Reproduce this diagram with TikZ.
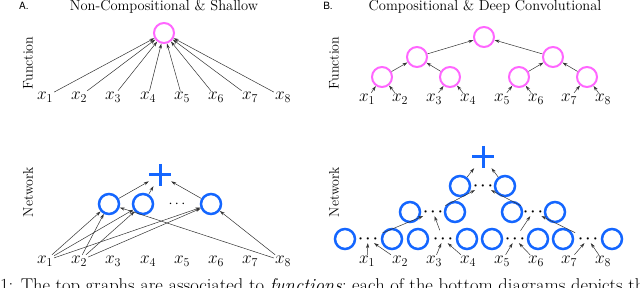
\documentclass[tikz,border=0pt]{standalone}
\usepackage{fontspec}
\newfontfamily\panelfont{TeX Gyre Heros}
\usetikzlibrary{arrows.meta}
\definecolor{FunPink}{HTML}{FF66FF}
\definecolor{NetBlue}{HTML}{1466FF}
\definecolor{EdgeGray}{HTML}{333333}

\begin{document}
\begin{tikzpicture}[x=1pt,y=-1pt,every node/.style={inner sep=1pt},
  heading/.style={font=\fontsize{14.5}{17}\selectfont,anchor=base},
  panel/.style={font=\panelfont\fontsize{10}{12}\selectfont,anchor=base},
  sidelabel/.style={font=\fontsize{14}{16}\selectfont,rotate=90},
  var/.style={font=\fontsize{18}{20}\selectfont},
  fun/.style={circle,draw=FunPink,line width=2pt,minimum size=20pt,inner sep=0pt},
  net/.style={circle,draw=NetBlue,line width=2.5pt,minimum size=20pt,inner sep=0pt},
  gap/.style={font=\fontsize{14.5}{16}\selectfont,inner sep=0.5pt},
  boldgap/.style={gap,font=\fontsize{15.5}{16}\selectfont\boldmath},
  plusnode/.style={minimum size=22pt,inner sep=0pt,path picture={
    \draw[NetBlue,line width=3pt] (path picture bounding box.north) -- (path picture bounding box.south)
      (path picture bounding box.west) -- (path picture bounding box.east);}},
  link/.style={draw=EdgeGray,line width=0.5pt,-{Stealth[length=5pt,width=3.2pt]}},
  lift/.style={link,shorten <=5pt}]
  \useasboundingbox (0,0) rectangle (640,288);

  % headings
  \node[panel] (pa) at (24,10) {A.};
  \node[heading] (ta) at (164,10.5) {Non-Compositional \& Shallow};
  \node[panel] (pb) at (328,10) {B.};
  \node[heading] (tb) at (485,10.5) {Compositional \& Deep Convolutional};
  \node[sidelabel] (fna) at (28,63) {Function};
  \node[sidelabel] (fnb) at (334,63) {Function};
  \node[sidelabel] (nwa) at (28,192) {Network};
  \node[sidelabel] (nwb) at (334,192) {Network};

  % A: shallow function
  \node[fun] (shallowf) at (164,33) {};
  \foreach \i/\px in {1/45,2/79,3/113,4/148,5/182,6/216,7/250,8/283} {
    \node[var] (sx\i) at (\px,97) {$x_{\i}$};
    \draw[link] (sx\i) -- (shallowf);
  }

  % B: compositional function
  \node[fun] (deepf) at (484,37) {};
  \node[fun] (deepl) at (417,57) {};
  \node[fun] (deepr) at (553,57) {};
  \node[fun] (d1) at (382,77) {};
  \node[fun] (d2) at (450,77) {};
  \node[fun] (d3) at (519,77) {};
  \node[fun] (d4) at (587,77) {};
  \foreach \i/\px in {1/367,2/400,3/434,4/468,5/502,6/536,7/569,8/603}
    \node[var] (dx\i) at (\px,99) {$x_{\i}$};
  \draw[link] (dx1) -- (d1);
  \draw[link] (dx2) -- (d1);
  \draw[link] (dx3) -- (d2);
  \draw[link] (dx4) -- (d2);
  \draw[link] (dx5) -- (d3);
  \draw[link] (dx6) -- (d3);
  \draw[link] (dx7) -- (d4);
  \draw[link] (dx8) -- (d4);
  \draw[link] (d1) -- (deepl);
  \draw[link] (d2) -- (deepl);
  \draw[link] (d3) -- (deepr);
  \draw[link] (d4) -- (deepr);
  \draw[link] (deepl) -- (deepf);
  \draw[link] (deepr) -- (deepf);

  % A: shallow network
  \node[plusnode] (sum) at (160,175) {};
  \node[net] (h1) at (109,204) {};
  \node[net] (h2) at (143,204) {};
  \node[gap] (hdots) at (177,204) {$\cdots$};
  \node[net] (h3) at (211,204) {};
  \foreach \i/\px in {1/45,2/79,3/113,4/148,5/182,6/216,7/250,8/283}
    \node[var] (nx\i) at (\px,261) {$x_{\i}$};
  \foreach \h in {h1,h2,h3} {
    \draw[link] (nx1) -- (\h);
    \draw[link] (nx2) -- (\h);
    \draw[link] (\h) -- (sum);
  }
  \draw[link] (nx8) -- (h1);
  \draw[link] (nx8) -- (h3);

  % B: deep convolutional network
  \node[plusnode] (top) at (483,157) {};
  \node[net] (u1) at (460,186) {};
  \node[boldgap] (udots) at (483,186) {$\cdots$};
  \node[net] (u2) at (505,186) {};
  \node[net] (v1) at (410,212) {};
  \node[boldgap] (vdots1) at (433,212) {$\cdots$};
  \node[net] (v2) at (455,212) {};
  \node[net] (v3) at (512,212) {};
  \node[boldgap] (vdots2) at (533,212) {$\cdots$};
  \node[net] (v4) at (555,212) {};
  \node[net] (w1) at (345,239) {};
  \node[boldgap] (wdots1) at (368,239) {$\cdots$};
  \node[net] (w2) at (392,239) {};
  \node[net] (w3) at (418,239) {};
  \node[boldgap] (wdots2) at (443,239) {$\cdots$};
  \node[net] (w4) at (467,239) {};
  \node[net] (w5) at (492,239) {};
  \node[boldgap] (wdots3) at (515,239) {$\cdots$};
  \node[net] (w6) at (538,239) {};
  \node[net] (w7) at (563,239) {};
  \node[boldgap] (wdots4) at (588,239) {$\cdots$};
  \node[net] (w8) at (612,239) {};
  \foreach \i/\px in {1/367,2/400,3/434,4/468,5/502,6/536,7/569,8/603}
    \node[var] (cx\i) at (\px,261) {$x_{\i}$};
  \draw[link] (cx1) -- (wdots1);
  \draw[link] (cx2) -- (wdots1);
  \draw[link] (cx3) -- (wdots2);
  \draw[link] (cx4) -- (wdots2);
  \draw[link] (cx5) -- (wdots3);
  \draw[link] (cx6) -- (wdots3);
  \draw[link] (cx7) -- (wdots4);
  \draw[link] (cx8) -- (wdots4);
  \draw[lift] (wdots1) -- (vdots1);
  \draw[lift] (wdots2) -- (vdots1);
  \draw[lift] (wdots3) -- (vdots2);
  \draw[lift] (wdots4) -- (vdots2);
  \draw[lift] (vdots1) -- (udots);
  \draw[lift] (vdots2) -- (udots);
  \draw[link] (u1) -- (top);
  \draw[link] (u2) -- (top);

  % caption line cut by the page edge
  \node[font=\fontsize{18.5}{20}\selectfont,anchor=base west,inner sep=0pt] (capt) at (0,292)
    {1: The top graphs are associated to \emph{functions}; each of the bottom diagrams depicts the};
\end{tikzpicture}
\end{document}
